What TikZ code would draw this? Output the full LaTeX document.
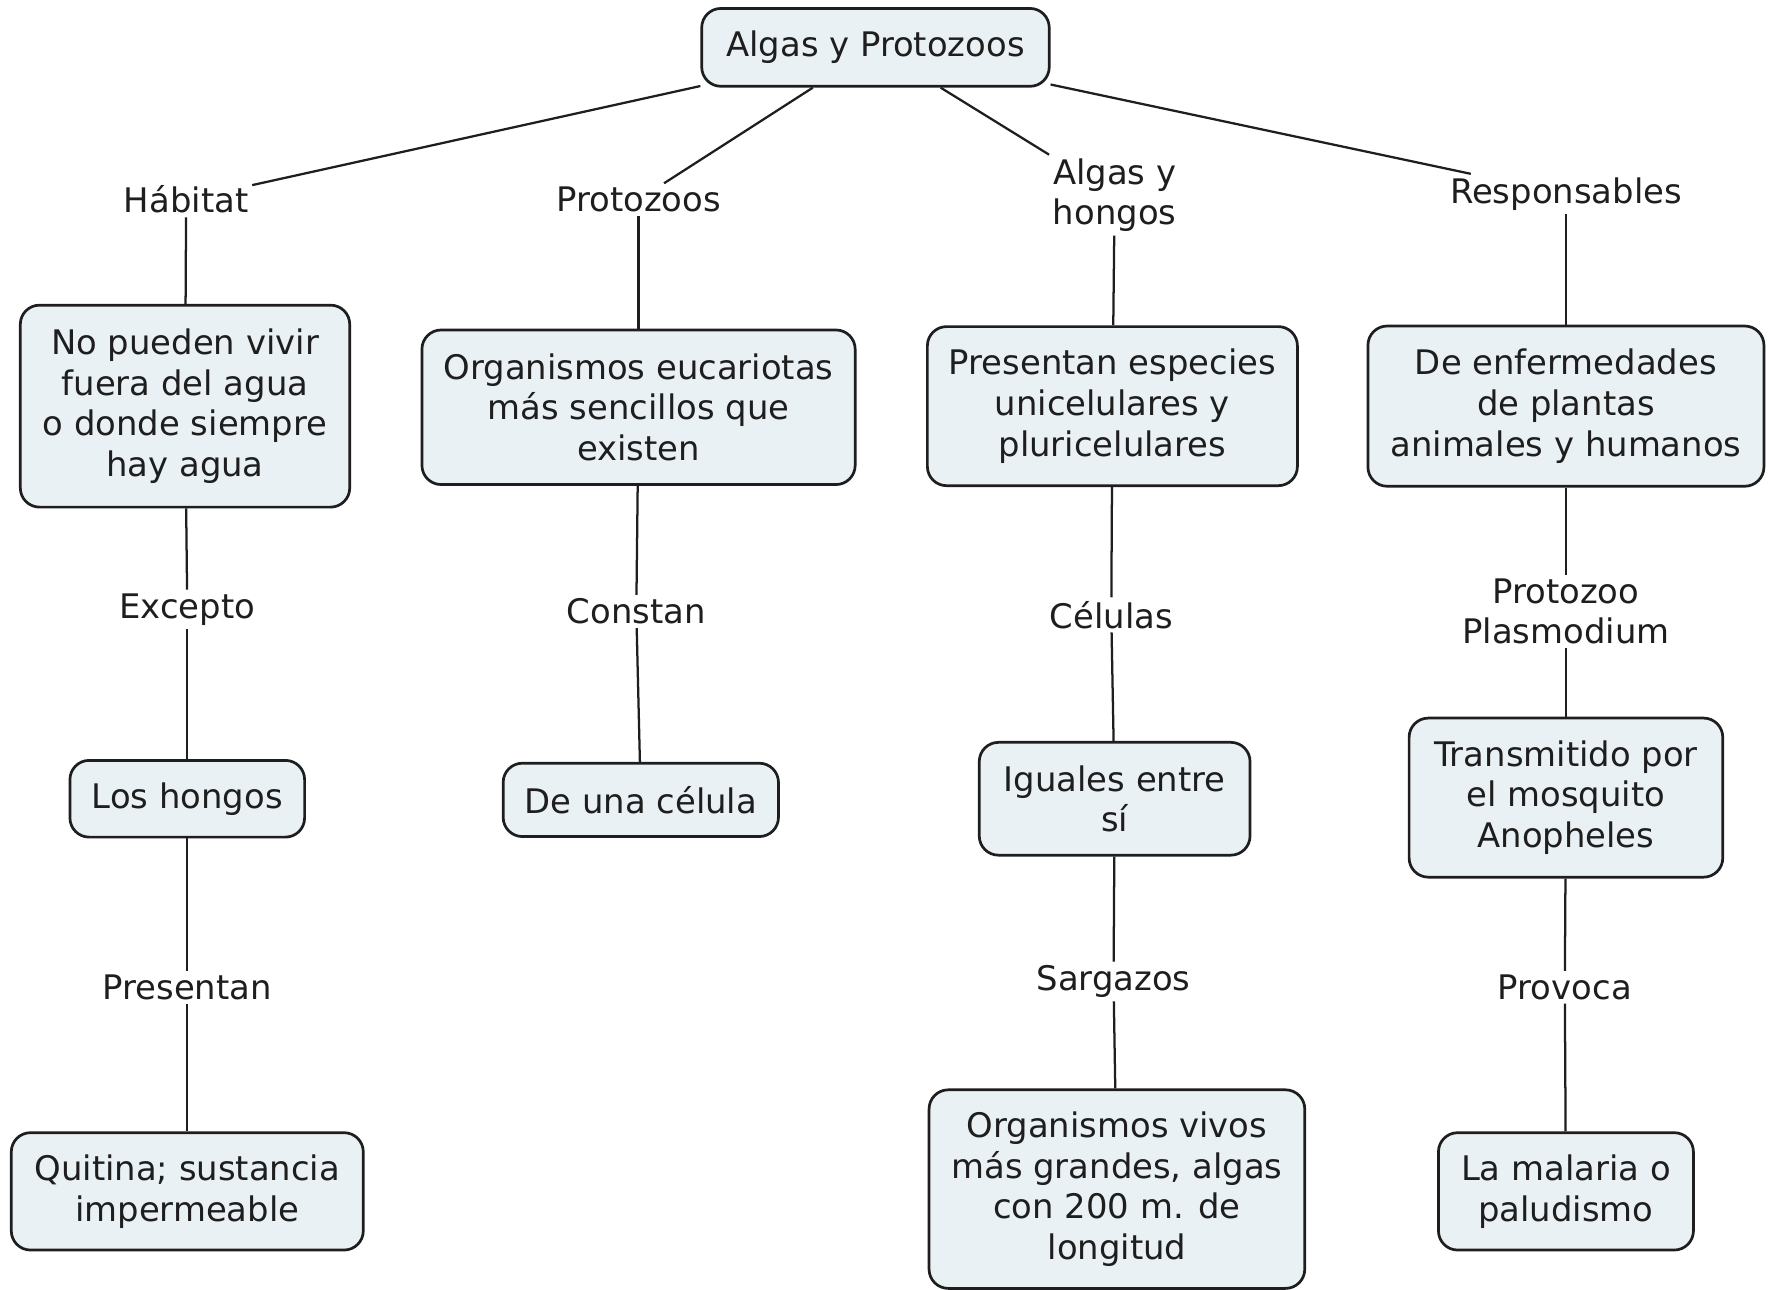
\documentclass[tikz,border=0pt]{standalone}
\usepackage{fontspec}
\setmainfont{DejaVu Sans}
\definecolor{boxfill}{HTML}{EAF1F4}
\definecolor{ink}{HTML}{1E1E1E}
\begin{document}
\begin{tikzpicture}[x=0.5pt,y=-0.5pt,
  every node/.style={font=\fontsize{15}{18}\selectfont, text=ink},
  box/.style={draw=ink, fill=boxfill, rounded corners=8.5pt, line width=1.2pt, align=center, inner sep=0pt},
  lbl/.style={align=center, inner sep=1.5pt, fill=white},
  conn/.style={draw=ink, line width=1pt}]
\useasboundingbox[fill=white] (0,0) rectangle (1568,1143);
% top
\node[box, minimum width=154pt, minimum height=34.5pt] (top) at (776,42) {Algas y Protozoos};
% level-1 labels
\node[lbl] (hab) at (165,177) {Hábitat};
\node[lbl] (pro) at (566,177) {Protozoos};
\node[lbl] (alg) at (988,173) {Algas y\\hongos};
\node[lbl] (res) at (1388,172) {Responsables};
% level-1 boxes
\node[box, minimum width=146pt, minimum height=89.5pt] (a1) at (164,360) {No pueden vivir\\fuera del agua\\o donde siempre\\hay agua};
\node[box, minimum width=192pt, minimum height=68.5pt] (b1) at (566,361) {Organismos eucariotas\\más sencillos que\\existen};
\node[box, minimum width=164pt, minimum height=70.5pt] (c1) at (986,360) {Presentan especies\\unicelulares y\\pluricelulares};
\node[box, minimum width=175.5pt, minimum height=71pt] (d1) at (1388,360) {De enfermedades\\de plantas\\animales y humanos};
% level-2 labels
\node[lbl] (exc) at (166,540) {Excepto};
\node[lbl] (con) at (564,542) {Constan};
\node[lbl] (cel) at (985,545) {Células};
\node[lbl] (pla) at (1388,542) {Protozoo\\Plasmodium};
% level-2 boxes
\node[box, minimum width=104pt, minimum height=34pt] (a2) at (166,708) {Los hongos};
\node[box, minimum width=122pt, minimum height=32.5pt] (b2) at (568,709) {De una célula};
\node[box, minimum width=120pt, minimum height=50pt] (c2) at (988,708) {Iguales entre\\sí};
\node[box, minimum width=139pt, minimum height=70.5pt] (d2) at (1388,707) {Transmitido por\\el mosquito\\Anopheles};
% level-3 labels
\node[lbl] (pre) at (166,875) {Presentan};
\node[lbl] (sar) at (987,870) {Sargazos};
\node[lbl] (prv) at (1387,875) {Provoca};
% level-3 boxes
\node[box, minimum width=156pt, minimum height=52pt] (a3) at (166,1056) {Quitina; sustancia\\impermeable};
\node[box, minimum width=166.5pt, minimum height=88pt] (c3) at (990,1054) {Organismos vivos\\más grandes, algas\\con 200 m. de\\longitud};
\node[box, minimum width=113pt, minimum height=52pt] (d3) at (1388,1056) {La malaria o\\paludismo};
% connectors
\begin{scope}[on background layer/.style={}]
\draw[conn] (top) -- (hab);
\draw[conn] (top) -- (pro);
\draw[conn] (top) -- (alg);
\draw[conn] (top) -- (res);
\draw[conn] (hab) -- (a1);
\draw[conn] (pro) -- (b1);
\draw[conn] (alg) -- (c1);
\draw[conn] (res) -- (d1);
\draw[conn] (a1) -- (exc);
\draw[conn] (b1) -- (con);
\draw[conn] (c1) -- (cel);
\draw[conn] (d1) -- (pla);
\draw[conn] (exc) -- (a2);
\draw[conn] (con) -- (b2);
\draw[conn] (cel) -- (c2);
\draw[conn] (pla) -- (d2);
\draw[conn] (a2) -- (pre);
\draw[conn] (c2) -- (sar);
\draw[conn] (d2) -- (prv);
\draw[conn] (pre) -- (a3);
\draw[conn] (sar) -- (c3);
\draw[conn] (prv) -- (d3);
\end{scope}
\end{tikzpicture}
\end{document}
